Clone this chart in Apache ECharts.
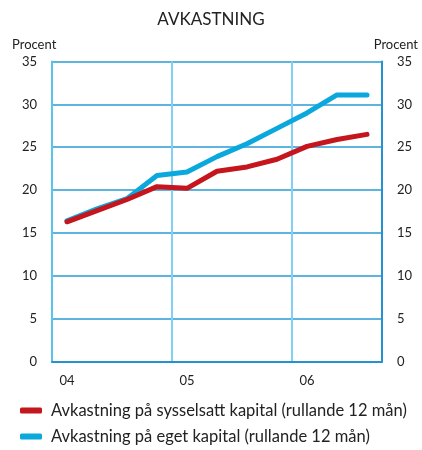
<!DOCTYPE html>
<html>
<head>
<meta charset="utf-8">
<script src="https://cdn.jsdelivr.net/npm/echarts@6/dist/echarts.min.js"></script>
<style>
    html, body { margin: 0; padding: 0; background: #ffffff; }
    #chart { width: 422px; height: 450px; }
</style>
</head>
<body>
<div id="chart"></div>
<script>
// kvartal 2004 Q1 .. 2006 Q3
var quarters = ['04 K1', '04 K2', '04 K3', '04 K4', '05 K1', '05 K2', '05 K3', '05 K4', '06 K1', '06 K2', '06 K3'];
var sysselsatt = [16.3, 17.6, 18.9, 20.4, 20.2, 22.2, 22.7, 23.6, 25.1, 25.9, 26.5];
var eget = [16.4, 17.8, 19.0, 21.7, 22.1, 23.9, 25.4, 27.2, 29.0, 31.1, 31.1];
var seriesNames = ['Avkastning på sysselsatt kapital (rullande 12 mån)', 'Avkastning på eget kapital (rullande 12 mån)'];
var yTicks = [0, 5, 10, 15, 20, 25, 30, 35];

var font = 'Lato, "Open Sans", sans-serif';
var textColor = '#222';

var myChart = echarts.init(document.getElementById('chart'));
myChart.setOption({
    animation: false,
    color: ['#c4161c', '#0aa8dc'],
    title: {
        text: 'AVKASTNING',
        left: 'center',
        top: 6,
        textStyle: { fontFamily: font, fontSize: 17, fontWeight: 'normal', color: textColor }
    },
    graphic: [
        { type: 'text', left: 12, top: 38, style: { text: 'Procent', font: '13px ' + font, fill: textColor } },
        { type: 'text', right: 4, top: 38, style: { text: 'Procent', font: '13px ' + font, fill: textColor } }
    ],
    legend: {
        orient: 'vertical',
        left: 20,
        top: 402,
        height: 48,
        padding: 0,
        itemWidth: 22,
        itemHeight: 6,
        itemGap: 9,
        icon: 'roundRect',
        textStyle: { fontFamily: font, fontSize: 16.5, color: textColor, padding: [0, 0, 0, 4] },
        data: seriesNames
    },
    grid: {
        left: 52,
        right: 40,
        top: 61.5,
        bottom: 88.5
    },
    xAxis: {
        type: 'category',
        boundaryGap: true,
        data: quarters,
        axisLine: { lineStyle: { color: '#2592cf', width: 2 } },
        axisTick: { show: false },
        axisLabel: {
            interval: 3,
            margin: 13,
            fontFamily: font,
            fontSize: 13,
            color: textColor,
            formatter: function (v) { return v.split(' ')[0]; }
        },
        splitLine: {
            show: true,
            interval: 3,
            lineStyle: { color: '#7fd0f2', width: 2 }
        }
    },
    yAxis: [{
        type: 'value',
        min: yTicks[0],
        max: yTicks[yTicks.length - 1],
        interval: 5,
        position: 'left',
        axisLine: { show: true, lineStyle: { color: '#5ac3ee', width: 2 } },
        axisTick: { show: false },
        axisLabel: { margin: 15, fontFamily: font, fontSize: 13, color: textColor },
        splitLine: { lineStyle: { color: '#2a9bd4', width: 1.5 } }
    }, {
        type: 'value',
        min: yTicks[0],
        max: yTicks[yTicks.length - 1],
        interval: 5,
        position: 'right',
        axisLine: { show: true, lineStyle: { color: '#2592cf', width: 2 } },
        axisTick: { show: false },
        axisLabel: { margin: 15, fontFamily: font, fontSize: 13, color: textColor },
        splitLine: { show: false }
    }],
    series: [
        {
            name: seriesNames[0],
            type: 'line',
            data: sysselsatt,
            showSymbol: false,
            symbol: 'none',
            z: 3,
            lineStyle: { width: 5, cap: 'round', join: 'round' }
        },
        {
            name: seriesNames[1],
            type: 'line',
            data: eget,
            showSymbol: false,
            symbol: 'none',
            z: 2,
            lineStyle: { width: 5, cap: 'round', join: 'round' }
        }
    ]
});
</script>
</body>
</html>
